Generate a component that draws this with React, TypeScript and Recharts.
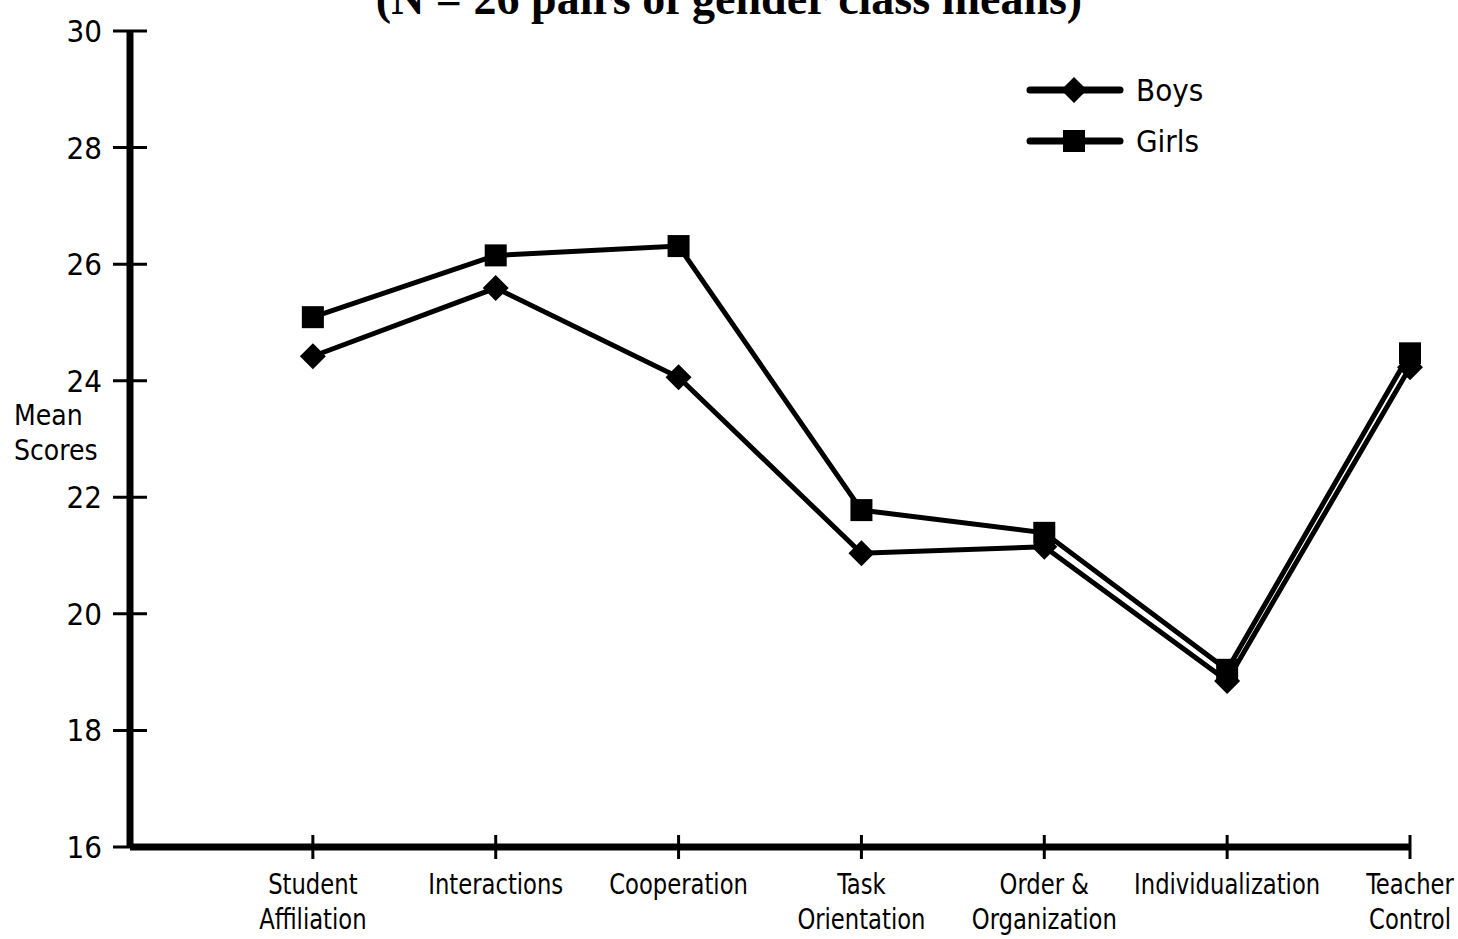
import { LineChart, Line, XAxis, YAxis, Legend } from "recharts";

const categories = [
  "Student\nAffiliation",
  "Interactions",
  "Cooperation",
  "Task\nOrientation",
  "Order &\nOrganization",
  "Individualization",
  "Teacher\nControl",
];
const boys = [24.42, 25.59, 24.06, 21.04, 21.15, 18.85, 24.23];
const girls = [25.09, 26.15, 26.31, 21.78, 21.39, 19.04, 24.47];
const yTicks = [16, 18, 20, 22, 24, 26, 28, 30];
const xTicks = categories.map((_, i) => i + 1);

const data = categories.map((label, i) => ({
  pos: i + 1,
  label,
  boys: boys[i],
  girls: girls[i],
}));

const font = "'DejaVu Sans Condensed', 'DejaVu Sans', sans-serif";
const textStyle = { fontStretch: "condensed" } as any;

const Diamond = (props: any) => {
  const { cx, cy, index } = props;
  const r = 13;
  return (
    <path
      key={"d" + index}
      d={`M${cx},${cy - r}L${cx + r},${cy}L${cx},${cy + r}L${cx - r},${cy}Z`}
      fill="#000"
    />
  );
};

const Square = (props: any) => {
  const { cx, cy, index } = props;
  const s = 11;
  return <rect key={"s" + index} x={cx - s} y={cy - s} width={s * 2} height={s * 2} fill="#000" />;
};

const YTick = ({ x, y, payload }: any) => (
  <g>
    <line x1={x - 17} x2={x + 17} y1={y} y2={y} stroke="#000" strokeWidth={3} />
    <text x={x - 28} y={y} textAnchor="end" dominantBaseline="central" fontSize={31} fontFamily={font} style={textStyle} fill="#000">
      {payload.value}
    </text>
  </g>
);

// labels squeezed a bit horizontally, like the condensed face of the original
const XTick = ({ x, y, payload }: any) => {
  const lines = categories[payload.value - 1].split("\n");
  return (
    <g>
      <line x1={x} x2={x} y1={y - 12} y2={y + 12} stroke="#000" strokeWidth={3} />
      <g transform={`translate(${x},${y}) scale(0.87,1)`}>
        {lines.map((l, i) => (
          <text key={i} x={0} y={47 + i * 35} textAnchor="middle" fontSize={29} fontFamily={font} style={textStyle} fill="#000">
            {l}
          </text>
        ))}
      </g>
    </g>
  );
};

const LegendBox = () => (
  <div style={{ fontFamily: font, fontStretch: "condensed", fontSize: 31 }}>
    {[
      { name: "Boys", shape: "diamond" },
      { name: "Girls", shape: "square" },
    ].map((e) => (
      <div key={e.name} style={{ display: "flex", alignItems: "center", height: 51 }}>
        <svg width={100} height={30}>
          <line x1={4} x2={94} y1={15} y2={15} stroke="#000" strokeWidth={7} strokeLinecap="round" />
          {e.shape === "diamond" ? (
            <path d="M48,2L61,15L48,28L35,15Z" fill="#000" />
          ) : (
            <rect x={37} y={4} width={22} height={22} fill="#000" />
          )}
        </svg>
        <span style={{ marginLeft: 10 }}>{e.name}</span>
      </div>
    ))}
  </div>
);

const YLabel = ({ viewBox }: any) => {
  const cy = viewBox.y + viewBox.height / 2;
  return (
    <text fontSize={28} fontFamily={font} style={textStyle} fill="#000">
      <tspan x={14} y={cy - 14}>Mean</tspan>
      <tspan x={14} y={cy + 21}>Scores</tspan>
    </text>
  );
};

export default function App() {
  return (
    <div style={{ position: "absolute", left: 0, top: 0, width: 1458, height: 939, background: "#fff", overflow: "hidden" }}>
      <div
        style={{
          position: "absolute",
          top: -24,
          left: 0,
          width: 1458,
          textAlign: "center",
          fontFamily: "'Liberation Serif', 'Times New Roman', serif",
          fontWeight: "bold",
          fontSize: 46,
          lineHeight: "46px",
        }}
      >
        (N = 26 pairs of gender class means)
      </div>
      <LineChart width={1458} height={939} data={data} margin={{ top: 31, right: 48, left: 0, bottom: 0 }}>
        <XAxis
          dataKey="pos"
          type="number"
          domain={[0, 7]}
          ticks={xTicks}
          height={92}
          axisLine={{ stroke: "#000", strokeWidth: 7 }}
          tickLine={false}
          tickSize={0}
          tickMargin={0}
          tick={<XTick />}
          interval={0}
        />
        <YAxis
          type="number"
          domain={[16, 30]}
          ticks={yTicks}
          width={130}
          axisLine={{ stroke: "#000", strokeWidth: 7 }}
          tickLine={false}
          tickSize={0}
          tickMargin={0}
          tick={<YTick />}
          interval={0}
          label={<YLabel />}
        />
        <Legend
          layout="vertical"
          verticalAlign="middle"
          align="center"
          content={<LegendBox />}
          wrapperStyle={{ left: 1026, top: 64, width: 220 }}
        />
        <Line
          dataKey="boys"
          name="Boys"
          stroke="#000"
          strokeWidth={5}
          dot={<Diamond />}
          activeDot={false}
          isAnimationActive={false}
        />
        <Line
          dataKey="girls"
          name="Girls"
          stroke="#000"
          strokeWidth={5}
          dot={<Square />}
          activeDot={false}
          isAnimationActive={false}
        />
      </LineChart>
    </div>
  );
}
